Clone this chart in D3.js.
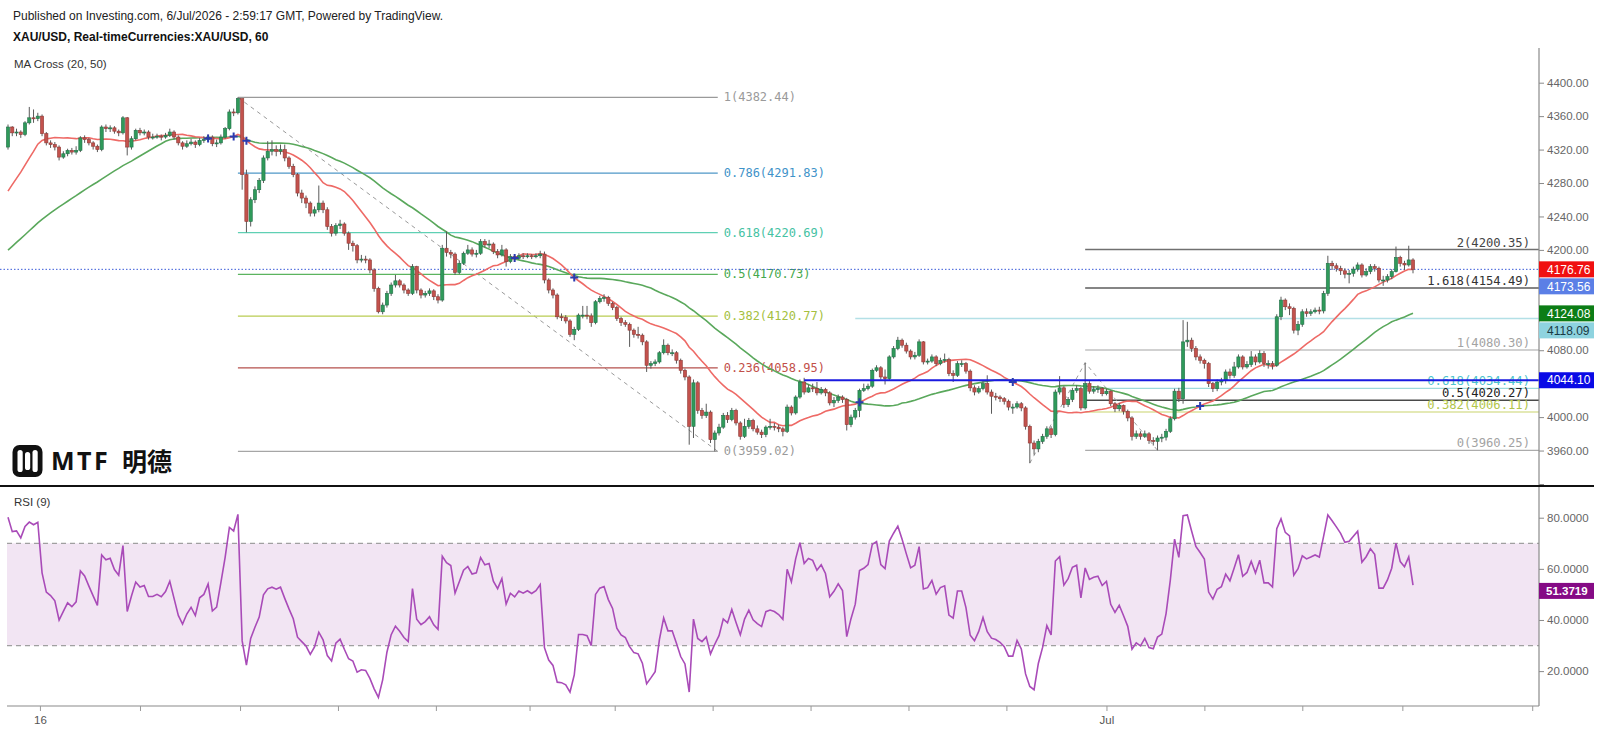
<!DOCTYPE html>
<html>
<head>
<meta charset="utf-8">
<script src="https://cdn.jsdelivr.net/npm/d3@7"></script>
<style>
  body { margin: 0; background: #fff; }
  svg { display: block; }
</style>
</head>
<body>
<svg id="chart" width="1600" height="734"></svg>
<script>
// ---------------------------------------------------------------
// data (XAU/USD 1h)
// bars before the first visible candle, only used to seed MA / RSI
var warmupCloses = [
    4108, 4112, 4105, 4115, 4120, 4118, 4125, 4122, 4130, 4128,
    4135, 4140, 4138, 4145, 4150, 4148, 4155, 4160, 4158, 4165,
    4170, 4168, 4175, 4180, 4178, 4185, 4190, 4188, 4192, 4195,
    4190, 4186, 4192, 4188, 4185, 4190, 4195, 4188,
    4250, 4290, 4310, 4305, 4318, 4322, 4315, 4325, 4330, 4320, 4328, 4323
];
var closes = [
    4347, 4340, 4341, 4338, 4352, 4358, 4357, 4360, 4339, 4328,
    4326, 4323, 4311, 4315, 4319, 4317, 4319, 4334, 4332, 4328,
    4324, 4320, 4347, 4345, 4346, 4342, 4340, 4358, 4323, 4333,
    4343, 4340, 4341, 4335, 4335, 4336, 4335, 4337, 4341, 4335,
    4328, 4324, 4327, 4329, 4326, 4331, 4332, 4335, 4327, 4328,
    4335, 4345, 4365, 4364, 4381, 4290, 4234, 4260, 4272, 4283,
    4310, 4318, 4320, 4318, 4320, 4310, 4300, 4290, 4268, 4262,
    4256, 4244, 4248, 4256, 4248, 4228, 4220, 4229, 4231, 4220,
    4208, 4205, 4188, 4189, 4188, 4176, 4154, 4126, 4134, 4148,
    4158, 4163, 4158, 4152, 4148, 4180, 4152, 4146, 4148, 4151,
    4144, 4140, 4202, 4197, 4195, 4173, 4184, 4196, 4200, 4195,
    4196, 4210, 4206, 4207, 4198, 4194, 4200, 4186, 4192, 4190,
    4193, 4192, 4193, 4192, 4193, 4195, 4164, 4152, 4146, 4120,
    4119, 4115, 4099, 4105, 4122, 4122, 4121, 4113, 4138, 4142,
    4143, 4136, 4131, 4118, 4113, 4111, 4104, 4099, 4098, 4090,
    4062, 4064, 4066, 4077, 4086, 4077, 4077, 4068, 4056, 4048,
    3989, 4041, 4008, 4002, 4006, 3973, 3981, 3988, 4002, 3997,
    4008, 3993, 3977, 3989, 3996, 3986, 3982, 3979, 3988, 3989,
    3988, 3986, 3983, 4012, 4005, 4024, 4042, 4030, 4035, 4034,
    4029, 4033, 4029, 4017, 4020, 4024, 4021, 3991, 4000, 4008,
    4032, 4034, 4037, 4056, 4059, 4048, 4046, 4072, 4082,
    4092, 4086, 4079, 4072, 4074, 4090, 4066, 4067, 4072, 4064,
    4068, 4069, 4052, 4050, 4064, 4064, 4055, 4035, 4030, 4034,
    4040, 4030, 4025, 4024, 4022, 4019, 4012, 4012,
    4016, 4011, 3989, 3969, 3962, 3971, 3977, 3986, 3979, 4030, 4035,
    4015, 4021, 4032, 4034, 4011, 4040, 4031, 4033, 4034, 4028,
    4031, 4016, 4010, 4014, 4007, 3999, 3977, 3980, 3977, 3980,
    3972, 3971, 3975, 3976, 3983, 3998, 4031, 4022, 4090, 4092,
    4082, 4072, 4068, 4064, 4040, 4034, 4042, 4044, 4054, 4050,
    4060, 4072, 4060, 4063, 4072, 4066, 4076, 4064, 4064, 4062,
    4120, 4140, 4132, 4130, 4104, 4111, 4126, 4124, 4126, 4128,
    4127, 4148, 4184, 4181, 4178, 4175, 4171, 4172, 4177, 4182,
    4170, 4174, 4180, 4178, 4164, 4164, 4168, 4174, 4191, 4184,
    4182, 4188, 4176.76
];
var highs = [
    4350, 4348, 4345, 4343, 4354, 4371, 4368, 4364, 4362, 4341,
    4331, 4329, 4325, 4318, 4321, 4322, 4324, 4336, 4337, 4334,
    4330, 4326, 4349, 4350, 4349, 4348, 4344, 4360, 4359, 4336,
    4345, 4346, 4344, 4343, 4339, 4339, 4338, 4340, 4345, 4343,
    4337, 4330, 4331, 4333, 4331, 4334, 4336, 4338, 4337, 4332,
    4338, 4347, 4368, 4369, 4382.44, 4381, 4296, 4263, 4276, 4286,
    4313, 4330, 4331, 4325, 4326, 4326, 4312, 4303, 4292, 4272,
    4265, 4258, 4252, 4277, 4259, 4251, 4231, 4232, 4236, 4233,
    4222, 4211, 4207, 4194, 4193, 4190, 4178, 4156, 4137, 4151,
    4161, 4170, 4165, 4160, 4154, 4183, 4181, 4154, 4151, 4154,
    4153, 4147, 4206, 4222, 4200, 4197, 4187, 4198, 4206, 4203,
    4200, 4213, 4213, 4212, 4209, 4201, 4206, 4202, 4195, 4194,
    4196, 4196, 4196, 4195, 4196, 4199, 4198, 4166, 4154, 4148,
    4124, 4122, 4117, 4108, 4124, 4133, 4133, 4124, 4140, 4145,
    4147, 4145, 4138, 4133, 4120, 4116, 4113, 4106, 4108, 4100,
    4092, 4067, 4069, 4079, 4093, 4088, 4081, 4079, 4070, 4058,
    4050, 4045, 4043, 4011, 4016, 4008, 3984, 3992, 4005, 4006,
    4011, 4010, 3995, 3998, 3999, 3998, 3990, 3985, 3990, 3998,
    3993, 3991, 3988, 4015, 4014, 4026, 4045, 4047, 4039, 4040,
    4042, 4036, 4035, 4031, 4024, 4027, 4026, 4023, 4003, 4011,
    4034, 4040, 4040, 4058, 4062, 4061, 4057, 4074, 4085,
    4096, 4094, 4089, 4081, 4078, 4093, 4091, 4070, 4075, 4074,
    4071, 4076, 4071, 4056, 4067, 4068, 4066, 4057, 4038, 4037,
    4043, 4050, 4033, 4029, 4026, 4024, 4021, 4016,
    4019, 4018, 4013, 3991, 3972, 3974, 3980, 3989, 3989, 4033, 4049,
    4037, 4024, 4035, 4038, 4036, 4065.05, 4043, 4037, 4038, 4036,
    4034, 4032, 4018, 4017, 4015, 4009, 4001, 3984, 3983, 3984,
    3982, 3976, 3978, 3980, 3986, 4001, 4034, 4035, 4116, 4114,
    4095, 4085, 4075, 4070, 4066, 4042, 4045, 4047, 4057, 4058,
    4066, 4075, 4074, 4067, 4079, 4075, 4080, 4079, 4068, 4067,
    4123, 4144, 4142, 4136, 4132, 4115, 4129, 4130, 4129, 4131,
    4132, 4151, 4193, 4187, 4184, 4181, 4178, 4176, 4180, 4185,
    4184, 4178, 4183, 4183, 4180, 4169, 4171, 4177, 4204, 4193,
    4187, 4205, 4190
];
var lows = [
    4320, 4336, 4336, 4334, 4336, 4350, 4352, 4354, 4336, 4325,
    4322, 4319, 4307, 4309, 4312, 4314, 4314, 4317, 4328, 4325,
    4320, 4317, 4318, 4341, 4341, 4339, 4336, 4338, 4313, 4320,
    4331, 4337, 4337, 4332, 4332, 4333, 4331, 4333, 4335, 4332,
    4325, 4320, 4322, 4325, 4322, 4324, 4328, 4330, 4324, 4323,
    4326, 4333, 4343, 4360, 4362, 4272, 4221, 4228, 4256, 4268,
    4280, 4307, 4313, 4312, 4314, 4306, 4297, 4287, 4264, 4256,
    4250, 4240, 4240, 4245, 4244, 4224, 4216, 4217, 4225, 4217,
    4200, 4198, 4184, 4185, 4184, 4172, 4150, 4124, 4123, 4131,
    4145, 4155, 4155, 4148, 4145, 4146, 4148, 4142, 4143, 4145,
    4140, 4136, 4138, 4192, 4190, 4170, 4171, 4182, 4194, 4192,
    4191, 4194, 4203, 4202, 4195, 4190, 4192, 4180, 4184, 4187,
    4188, 4189, 4190, 4189, 4190, 4190, 4160, 4148, 4142, 4117,
    4115, 4112, 4096, 4092, 4103, 4118, 4117, 4108, 4111, 4136,
    4138, 4133, 4128, 4115, 4109, 4108, 4084, 4095, 4094, 4086,
    4054, 4058, 4061, 4064, 4075, 4074, 4073, 4064, 4052, 4044,
    3967, 3975, 4004, 3998, 3999, 3969, 3959.02, 3978, 3986, 3993,
    3995, 3990, 3973, 3975, 3986, 3983, 3979, 3975, 3976, 3985,
    3984, 3982, 3977, 3981, 4002, 4003, 4022, 4027, 4029, 4030,
    4026, 4027, 4025, 4014, 4012, 4017, 4017, 3984, 3988, 3997,
    4000, 4030, 4032, 4035, 4054, 4045, 4039, 4044, 4070,
    4080, 4083, 4076, 4069, 4069, 4072, 4063, 4063, 4065, 4061,
    4062, 4065, 4049, 4042, 4048, 4060, 4052, 4031, 4026, 4028,
    4032, 4027, 4004, 4020, 4018, 4015, 4008, 4004,
    4010, 4007, 3985, 3944.95, 3955, 3958, 3968, 3974, 3975, 3977, 4027,
    4011, 4012, 4018, 4029, 4008, 4009, 4028, 4028, 4029, 4025,
    4026, 4013, 4006, 4007, 4003, 3995, 3972, 3974, 3973, 3975,
    3968, 3966, 3960.25, 3970, 3972, 3981, 3996, 4018, 4016, 4084,
    4078, 4068, 4064, 4058, 4036, 4030, 4031, 4038, 4040, 4046,
    4047, 4058, 4057, 4058, 4060, 4062, 4064, 4060, 4058, 4057,
    4060, 4116, 4128, 4122, 4100, 4098, 4108, 4120, 4121, 4124,
    4123, 4124, 4145, 4176, 4174, 4170, 4166, 4160, 4168, 4174,
    4167, 4168, 4171, 4174, 4161, 4157, 4161, 4165, 4173, 4180,
    4176, 4180, 4172
];

var priceTicks = [3920, 3960, 4000, 4040, 4080, 4120, 4160, 4200, 4240, 4280, 4320, 4360, 4400];
var rsiTicks = [20, 40, 60, 80];
var dayTicks = [7.5, 31, 54.5, 77.5, 100.5, 122.5, 142.5, 165.5, 188.5, 211.5, 234.5, 258, 281, 304, 327.5, 358];
var dayLabels = ["16", "", "", "", "", "", "", "", "", "", "", "Jul", "", "", "", ""];

// fib retracement drawn from the 4382.44 top to the 3959.02 low
var retraceLevels = ["1", "0.786", "0.618", "0.5", "0.382", "0.236", "0"];
var retracePrices = [4382.44, 4291.83, 4220.69, 4170.73, 4120.77, 4058.95, 3959.02];
var retraceFrom = 54, retraceTo = 166;
// trend based fib extension (A -> B -> C)
var extLevels = ["2", "1.618", "1", "0.618", "0.5", "0.382", "0"];
var extPrices = [4200.35, 4154.49, 4080.30, 4034.44, 4020.27, 4006.11, 3960.25];
var extA = 240, extB = 253, extC = 270;
// horizontal lines and price badges
var hLinePrices = [4044.10, 4118.09];
var hLineFrom = [187, 199];
var lastPrice = 4176.76, ma20Last = 4173.56, ma50Last = 4124.08, rsiLast = 51.3719;

// ---------------------------------------------------------------
var retraceColors = ["#9a9a9a", "#4f97c7", "#5fd0b4", "#5bb45f", "#b9cc52", "#b5514c", "#a6a6a6"];
var retraceText = ["#9a9a9a", "#3f93c9", "#45c2a3", "#46a84c", "#a5bf40", "#c24f49", "#9a9a9a"];
var extColors = ["#707070", "#5c5c5c", "#a3a3a3", "#9fdadd", "#4a4a4a", "#c9d46c", "#ababab"];
var extText = ["#444", "#333", "#a3a3a3", "#4cc4cc", "#222", "#b2c64a", "#a3a3a3"];

var svg = d3.select("#chart");
var W = 1600, axisX = 1539;
var priceTop = 48, priceBottom = 486, rsiBottom = 706;
var N = closes.length;
if (highs.length !== N || lows.length !== N) console.error("length mismatch", N, highs.length, lows.length);

var x = d3.scaleLinear().domain([0, N - 1]).range([8, 1413]);
var y = d3.scaleLinear().domain([3917.6, 4441.5]).range([priceBottom, priceTop]);
var yR = d3.scaleLinear().domain([6.36, 92.4]).range([rsiBottom, priceBottom]);

// indicators from the closes (warm-up bars give them history)
var allCloses = warmupCloses.concat(closes);
var off = warmupCloses.length;
function sma(values, period) {
    return values.map((d, i) => i < period - 1 ? null : d3.mean(values.slice(i - period + 1, i + 1)));
}
function rsi(values, period) {
    var out = [], gain = 0, loss = 0;
    for (var i = 1; i < values.length; i++) {
        var ch = values[i] - values[i - 1];
        var g = Math.max(ch, 0), l = Math.max(-ch, 0);
        if (i <= period) {
            gain += g; loss += l;
            if (i === period) { gain /= period; loss /= period; out[i] = 100 - 100 / (1 + gain / loss); }
        } else {
            gain = (gain * (period - 1) + g) / period;
            loss = (loss * (period - 1) + l) / period;
            out[i] = loss === 0 ? 100 : 100 - 100 / (1 + gain / loss);
        }
    }
    return out;
}
var ma20 = sma(allCloses, 20).slice(off);
var ma50 = sma(allCloses, 50).slice(off);
var rsi9 = rsi(allCloses, 9).slice(off);
var opens = closes.map((c, i) => i === 0 ? warmupCloses[off - 1] : closes[i - 1]);

var font = "'Liberation Sans', Arial, sans-serif";
var mono = "'DejaVu Sans Mono', monospace";

svg.append("rect").attr("width", W).attr("height", 734).attr("fill", "#fff");

// ----------------------- header
svg.append("text").attr("x", 13).attr("y", 20).style("font", "12px " + font).attr("fill", "#222")
    .text("Published on Investing.com, 6/Jul/2026 - 2:59:17 GMT, Powered by TradingView.");
svg.append("text").attr("x", 13).attr("y", 41).style("font", "bold 12px " + font).attr("fill", "#111")
    .text("XAU/USD, Real-timeCurrencies:XAU/USD, 60");
svg.append("text").attr("x", 14).attr("y", 68).style("font", "11.5px " + font).attr("fill", "#333")
    .text("MA Cross (20, 50)");

// ----------------------- clips
var defs = svg.append("defs");
defs.append("clipPath").attr("id", "clipP").append("rect")
    .attr("x", 0).attr("y", priceTop).attr("width", axisX).attr("height", priceBottom - priceTop);
defs.append("clipPath").attr("id", "clipR").append("rect")
    .attr("x", 0).attr("y", priceBottom).attr("width", axisX).attr("height", rsiBottom - priceBottom);

var pane = svg.append("g").attr("clip-path", "url(#clipP)");

// ----------------------- logo (bottom left of price pane)
var logo = svg.append("g");
logo.append("rect").attr("x", 12.5).attr("y", 445).attr("width", 30).attr("height", 32).attr("rx", 7).attr("fill", "#111");
[17.5, 25, 32.5].forEach((lx, k) => {
    logo.append("rect").attr("x", lx).attr("y", k === 1 ? 452 : 450).attr("width", 5.2)
        .attr("height", k === 1 ? 18 : 22).attr("rx", 2.6).attr("fill", "#fff");
});
logo.append("text").attr("x", 51).attr("y", 470).style("font", "bold 25px 'Noto Sans', sans-serif")
    .attr("letter-spacing", "2.5px").attr("fill", "#111").text("MTF");
logo.append("text").attr("x", 122).attr("y", 471).style("font", "bold 25px 'Noto Sans CJK SC', sans-serif")
    .attr("fill", "#111").text("明德");

// ----------------------- fib retracement
var xr0 = x(retraceFrom), xr1 = x(retraceTo) + 3;
pane.append("line").attr("x1", xr0).attr("y1", y(retracePrices[0])).attr("x2", xr1).attr("y2", y(retracePrices[6]))
    .attr("stroke", "#9a9a9a").attr("stroke-dasharray", "4,4").attr("stroke-width", 1);
retracePrices.forEach((p, k) => {
    pane.append("line").attr("x1", xr0).attr("x2", xr1).attr("y1", y(p)).attr("y2", y(p))
        .attr("stroke", retraceColors[k]).attr("stroke-width", 1.2);
    pane.append("text").attr("x", xr1 + 6).attr("y", y(p) + 4).style("font", "12px " + mono)
        .attr("fill", retraceText[k]).text(retraceLevels[k] + "(" + p.toFixed(2) + ")");
});

// ----------------------- fib extension
var xe0 = x(extB);
extPrices.forEach((p, k) => {
    pane.append("line").attr("x1", xe0).attr("x2", axisX).attr("y1", y(p)).attr("y2", y(p))
        .attr("stroke", extColors[k]).attr("stroke-width", k < 2 || k === 4 ? 1.5 : 1.2);
    pane.append("text").attr("x", 1530).attr("y", y(p) - 3).attr("text-anchor", "end")
        .style("font", "12.2px " + mono).attr("fill", extText[k])
        .text(extLevels[k] + "(" + p.toFixed(2) + ")");
});
pane.append("path")
    .attr("d", d3.line()([[x(extA), y(lows[extA])], [x(extB), y(highs[extB])], [x(extC), y(lows[extC])]]))
    .attr("fill", "none").attr("stroke", "#a0a0a0").attr("stroke-dasharray", "4,4");

// ----------------------- horizontal lines
pane.append("line").attr("x1", x(hLineFrom[1])).attr("x2", axisX).attr("y1", y(hLinePrices[1])).attr("y2", y(hLinePrices[1]))
    .attr("stroke", "#b3e0e6").attr("stroke-width", 1.5);
pane.append("line").attr("x1", 0).attr("x2", axisX).attr("y1", y(lastPrice)).attr("y2", y(lastPrice))
    .attr("stroke", "#3a5bd9").attr("stroke-dasharray", "1.5,2").attr("stroke-width", 1);

// ----------------------- MA lines
var maLine = d3.line().defined(d => d[1] != null).x(d => x(d[0])).y(d => y(d[1]));
pane.append("path").attr("d", maLine(ma50.map((v, i) => [i, v])))
    .attr("fill", "none").attr("stroke", "#5aa85c").attr("stroke-width", 1.6);
pane.append("path").attr("d", maLine(ma20.map((v, i) => [i, v])))
    .attr("fill", "none").attr("stroke", "#ee6a66").attr("stroke-width", 1.6);

// ----------------------- candles
var bw = 3.2;
var candles = pane.append("g").selectAll("g").data(closes.map((c, i) => i)).join("g");
candles.append("line")
    .attr("x1", i => x(i)).attr("x2", i => x(i))
    .attr("y1", i => y(highs[i])).attr("y2", i => y(lows[i]))
    .attr("stroke", "#5a5a5a").attr("stroke-width", 1);
candles.append("rect")
    .attr("x", i => x(i) - bw / 2).attr("width", bw)
    .attr("y", i => y(Math.max(opens[i], closes[i])))
    .attr("height", i => Math.max(1, Math.abs(y(opens[i]) - y(closes[i]))))
    .attr("fill", i => closes[i] >= opens[i] ? "#2f9a5a" : "#c3524d")
    .attr("stroke", i => closes[i] >= opens[i] ? "#23704a" : "#8e3a36")
    .attr("stroke-width", 0.6);

// blue line on top of the candles
pane.append("line").attr("x1", x(hLineFrom[0])).attr("x2", axisX).attr("y1", y(hLinePrices[0])).attr("y2", y(hLinePrices[0]))
    .attr("stroke", "#1a1ae0").attr("stroke-width", 2);

// MA cross markers
var crosses = [];
for (var i = 1; i < N; i++) {
    var a = ma20[i - 1] - ma50[i - 1], b = ma20[i] - ma50[i];
    if (a * b < 0) crosses.push(i);
}
pane.append("g").selectAll("path").data(crosses).join("path")
    .attr("d", i => `M${x(i) - 4},${y(ma20[i])}h8M${x(i)},${y(ma20[i]) - 4}v8`)
    .attr("stroke", "#2b3bb0").attr("stroke-width", 2);

// ----------------------- RSI pane
var rp = svg.append("g").attr("clip-path", "url(#clipR)");
rp.append("rect").attr("x", 7).attr("width", axisX - 7).attr("y", yR(70)).attr("height", yR(30) - yR(70))
    .attr("fill", "#f2e5f3");
[70, 30].forEach(v => {
    rp.append("line").attr("x1", 7).attr("x2", axisX).attr("y1", yR(v)).attr("y2", yR(v))
        .attr("stroke", "#a0a0a0").attr("stroke-dasharray", "5,4").attr("stroke-width", 1.2);
});
rp.append("path")
    .attr("d", d3.line().defined(d => d[1] != null).x(d => x(d[0])).y(d => yR(d[1]))(rsi9.map((v, i) => [i, v])))
    .attr("fill", "none").attr("stroke", "#a94bb8").attr("stroke-width", 1.6);
svg.append("text").attr("x", 14).attr("y", 506).style("font", "11.5px " + font).attr("fill", "#333").text("RSI (9)");

// ----------------------- frame / axes
svg.append("line").attr("x1", axisX).attr("x2", axisX).attr("y1", priceTop).attr("y2", rsiBottom)
    .attr("stroke", "#8a8a8a").attr("stroke-width", 1.2);
svg.append("line").attr("x1", 7).attr("x2", axisX).attr("y1", rsiBottom).attr("y2", rsiBottom)
    .attr("stroke", "#8a8a8a").attr("stroke-width", 1.2);
svg.append("line").attr("x1", 0).attr("x2", 1594).attr("y1", priceBottom).attr("y2", priceBottom)
    .attr("stroke", "#111").attr("stroke-width", 1.8);

// price badges (pushed apart when they collide, like the platform does)
var badges = [
    { v: lastPrice, bg: "#f01010", fg: "#fff" },
    { v: ma20Last, bg: "#5b7fe6", fg: "#fff" },
    { v: ma50Last, bg: "#0c7d16", fg: "#fff" },
    { v: hLinePrices[1], bg: "#8ed3df", fg: "#1a3a44" },
    { v: hLinePrices[0], bg: "#0a0ae6", fg: "#fff" }
];
var bh = 16, lastY = -Infinity;
badges.sort((a, b) => b.v - a.v).forEach(d => {
    d.cy = Math.max(y(d.v), lastY + bh + 1);
    lastY = d.cy;
});

var yAxis = svg.append("g").attr("transform", `translate(${axisX},0)`)
    .call(d3.axisRight(y).tickValues(priceTicks).tickSize(5).tickFormat(d3.format(".2f")));
var rAxis = svg.append("g").attr("transform", `translate(${axisX},0)`)
    .call(d3.axisRight(yR).tickValues(rsiTicks).tickSize(5).tickFormat(d3.format(".4f")));
[yAxis, rAxis].forEach(g => {
    g.select(".domain").remove();
    g.selectAll("line").attr("stroke", "#8a8a8a");
    g.selectAll("text").attr("x", 8).style("font", "11.5px " + font).attr("fill", "#666");
});
// tick labels that sit under a badge are hidden, as in the original
yAxis.selectAll(".tick").filter(d => badges.some(b => Math.abs(y(d) - b.cy) < 13)).select("text").remove();
// the 3920 label runs into the pane separator
yAxis.selectAll(".tick").filter(d => d === 3920).select("text").attr("clip-path", "url(#clipP)");

var xAxis = svg.append("g").attr("transform", `translate(0,${rsiBottom})`)
    .call(d3.axisBottom(x).tickValues(dayTicks).tickSize(5).tickFormat((d, k) => dayLabels[k]));
xAxis.select(".domain").remove();
xAxis.selectAll("line").attr("stroke", "#9a9a9a");
xAxis.selectAll("text").attr("dy", "0.9em").style("font", "11.5px " + font).attr("fill", "#555");

badges.forEach(d => {
    svg.append("rect").attr("x", axisX).attr("y", d.cy - bh / 2).attr("width", 55).attr("height", bh).attr("fill", d.bg);
    svg.append("text").attr("x", axisX + 8).attr("y", d.cy + 4.2).style("font", "12px " + font)
        .attr("fill", d.fg).text(d.v.toFixed(2));
});
svg.append("rect").attr("x", axisX).attr("y", yR(rsiLast) - bh / 2).attr("width", 55).attr("height", bh).attr("fill", "#850a85");
svg.append("text").attr("x", axisX + 7).attr("y", yR(rsiLast) + 4.2).style("font", "bold 11.5px " + font)
    .attr("fill", "#fff").text(rsiLast.toFixed(4));
</script>
</body>
</html>
